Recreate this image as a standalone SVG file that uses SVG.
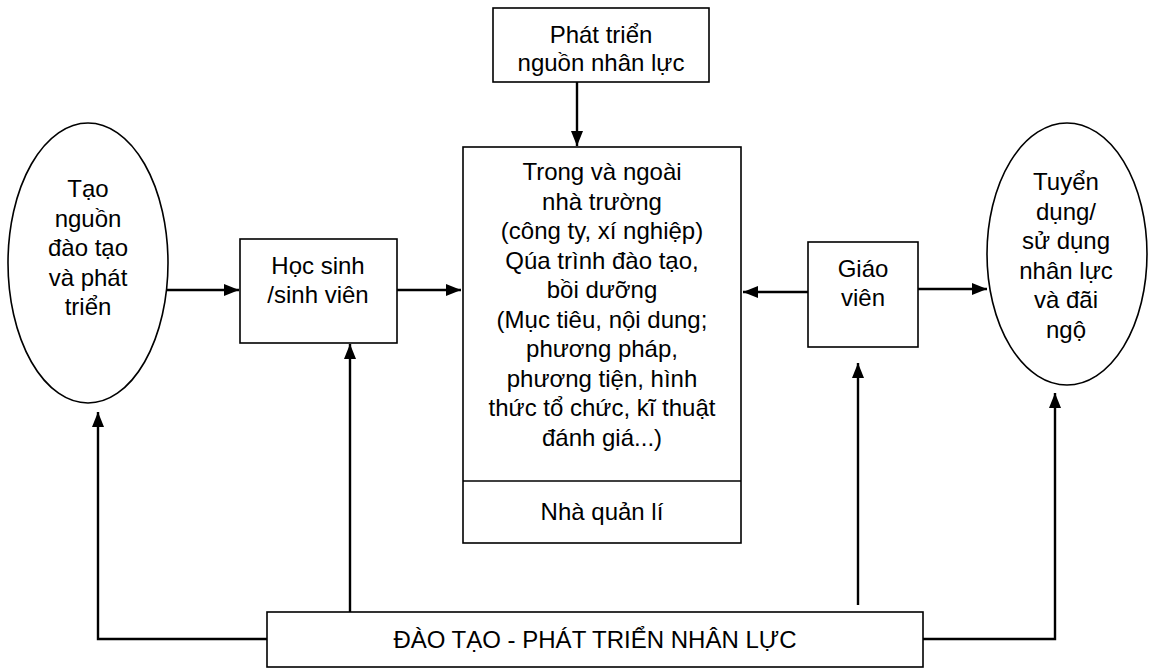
<svg xmlns="http://www.w3.org/2000/svg" width="1149" height="669" viewBox="0 0 1149 669">
<defs>
<marker id="ah" viewBox="0 0 15 12" refX="15" refY="6" markerWidth="15" markerHeight="12" markerUnits="userSpaceOnUse" orient="auto">
<path d="M0,0 L15,6 L0,12 Z" fill="#000"/>
</marker>
<style>
.box{fill:#fff;stroke:#000;stroke-width:1.6}
.t{font-family:"Liberation Sans",Arial,sans-serif;font-size:24px;fill:#000;text-anchor:middle}
.c{fill:none;stroke:#000;stroke-width:2.4}
.a{fill:none;stroke:#000;stroke-width:2.4;marker-end:url(#ah)}
</style>
</defs>
<rect width="1149" height="669" fill="#fff"/>

<g id="connectors">
<line class="a" x1="577" y1="82" x2="577" y2="146"/>
<line class="a" x1="167" y1="290" x2="239" y2="290"/>
<line class="a" x1="397" y1="290" x2="461" y2="290"/>
<line class="a" x1="808" y1="292" x2="743" y2="292"/>
<line class="a" x1="918" y1="289" x2="987" y2="289"/>
<polyline class="a" points="267,639 98,639 98,412"/>
<line class="a" x1="350" y1="612" x2="350" y2="344"/>
<line class="a" x1="858" y1="605" x2="858" y2="363"/>
<polyline class="a" points="923,639 1055,639 1055,393"/>
</g>

<g id="node-phattrien">
<rect class="box" x="493" y="8" width="216" height="74"/>
<text class="t" x="601" y="43">Phát triển</text>
<text class="t" x="601" y="71">nguồn nhân lực</text>
</g>

<g id="node-main">
<rect class="box" x="463" y="147" width="278" height="396"/>
<line x1="463" y1="481" x2="741" y2="481" stroke="#000" stroke-width="1.6"/>
<text class="t" x="602" y="180">Trong và ngoài</text>
<text class="t" x="602" y="209.5">nhà trường</text>
<text class="t" x="602" y="239">(công ty, xí nghiệp)</text>
<text class="t" x="602" y="268.5">Qúa trình đào tạo,</text>
<text class="t" x="602" y="298">bồi dưỡng</text>
<text class="t" x="602" y="327.5">(Mục tiêu, nội dung;</text>
<text class="t" x="602" y="357">phương pháp,</text>
<text class="t" x="602" y="386.5">phương tiện, hình</text>
<text class="t" x="602" y="416">thức tổ chức, kĩ thuật</text>
<text class="t" x="602" y="445.5">đánh giá...)</text>
<text class="t" x="602" y="520">Nhà quản lí</text>
</g>

<g id="node-taonguon">
<ellipse class="box" cx="88" cy="263" rx="80" ry="140"/>
<text class="t" x="88" y="197">Tạo</text>
<text class="t" x="88" y="226.5">nguồn</text>
<text class="t" x="88" y="256">đào tạo</text>
<text class="t" x="88" y="285.5">và phát</text>
<text class="t" x="88" y="315">triển</text>
</g>

<g id="node-hocsinh">
<rect class="box" x="240" y="239" width="157" height="104"/>
<text class="t" x="318" y="274">Học sinh</text>
<text class="t" x="318" y="303">/sinh viên</text>
</g>

<g id="node-giaovien">
<rect class="box" x="808" y="242" width="110" height="105"/>
<text class="t" x="863" y="277">Giáo</text>
<text class="t" x="863" y="306">viên</text>
</g>

<g id="node-tuyendung">
<ellipse class="box" cx="1067" cy="254" rx="80" ry="131"/>
<text class="t" x="1066" y="190">Tuyển</text>
<text class="t" x="1066" y="219.5">dụng/</text>
<text class="t" x="1066" y="249">sử dụng</text>
<text class="t" x="1066" y="278.5">nhân lực</text>
<text class="t" x="1066" y="308">và đãi</text>
<text class="t" x="1066" y="337.5">ngộ</text>
</g>

<g id="node-daotao">
<rect class="box" x="267" y="612" width="656" height="55"/>
<text class="t" x="595" y="648">ĐÀO TẠO - PHÁT TRIỂN NHÂN LỰC</text>
</g>
</svg>
